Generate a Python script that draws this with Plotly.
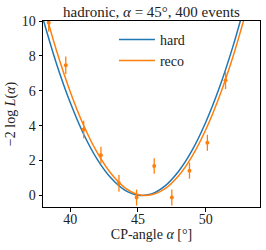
import plotly.graph_objects as go

# curve samples
curve_x = [38, 39, 40, 41, 42, 43, 44, 45, 46, 47, 48, 49, 50, 51, 52, 53]
hard_y = [10.13, 7.54, 5.34, 3.51, 2.07, 1.01, 0.32, 0.02, 0.09, 0.55, 1.39, 2.60, 4.20, 6.17, 8.53, 11.27]
reco_y = [11.0, 8.29, 5.96, 4.01, 2.45, 1.27, 0.47, 0.06, 0.04, 0.39, 1.13, 2.26, 3.77, 5.66, 7.94, 10.6]

# pseudo-data points (reco)
pts_x = [38.42, 39.68, 41.0, 42.27, 43.6, 44.9, 46.2, 47.5, 48.8, 50.12, 51.46]
pts_y = [9.9, 7.46, 3.78, 2.31, 0.70, -0.12, 1.69, -0.12, 1.42, 3.02, 6.6]
pts_err = [0.5, 0.5, 0.5, 0.48, 0.48, 0.46, 0.45, 0.46, 0.46, 0.46, 0.5]

title = "hadronic, <i>α</i> = 45°, 400 events"
xlabel = "CP-angle <i>α</i> [°]"
ylabel = "−2 log <i>L</i>(<i>α</i>)"
xticks = [40, 45, 50]
yticks = [0, 2, 4, 6, 8, 10]

BLUE = "#1f77b4"
ORANGE = "#ff7f0e"
FONT = "Liberation Serif"
TXT = "#222"

fig = go.Figure()
fig.add_trace(go.Scatter(x=curve_x, y=hard_y, mode="lines", name="hard",
                         line=dict(color=BLUE, width=1.5, shape="spline")))
fig.add_trace(go.Scatter(x=curve_x, y=reco_y, mode="lines", name="reco",
                         line=dict(color=ORANGE, width=1.5, shape="spline")))
fig.add_trace(go.Scatter(x=pts_x, y=pts_y, mode="markers", showlegend=False,
                         marker=dict(color=ORANGE, size=4),
                         error_y=dict(type="data", array=pts_err, color=ORANGE,
                                      thickness=1.3, width=0)))

axis_common = dict(showgrid=False, zeroline=False, showline=True, linecolor="black",
                   linewidth=1, mirror=True, ticks="outside", ticklen=3.5,
                   tickcolor="black", automargin=False,
                   tickfont=dict(family=FONT, size=14, color=TXT))

fig.update_layout(
    template="none",
    width=266, height=250,
    margin=dict(l=43, r=6, t=21, b=43),
    plot_bgcolor="white", paper_bgcolor="white",
    title=dict(text=title, xref="paper", x=0.5, xanchor="center",
               yref="container", y=1 - 12 / 250, yanchor="middle",
               font=dict(family=FONT, size=15, color=TXT)),
    xaxis=dict(range=[38, 54], tickvals=xticks, ticklabelstandoff=-4,
               title=dict(text=xlabel, font=dict(family=FONT, size=14, color=TXT), standoff=0),
               **axis_common),
    yaxis=dict(range=[-0.66, 10], tickvals=yticks,
               title=dict(text=ylabel, font=dict(family=FONT, size=14, color=TXT), standoff=2),
               **axis_common),
    legend=dict(x=0.327, y=0.985, xanchor="left", yanchor="top", bgcolor="rgba(0,0,0,0)",
                font=dict(family=FONT, size=14, color=TXT), tracegroupgap=0,
                itemwidth=36),
    showlegend=True,
)

fig.write_html("out.html", config={"displayModeBar": False},
               post_script="document.body.style.margin='0';document.body.style.overflow='hidden';")
